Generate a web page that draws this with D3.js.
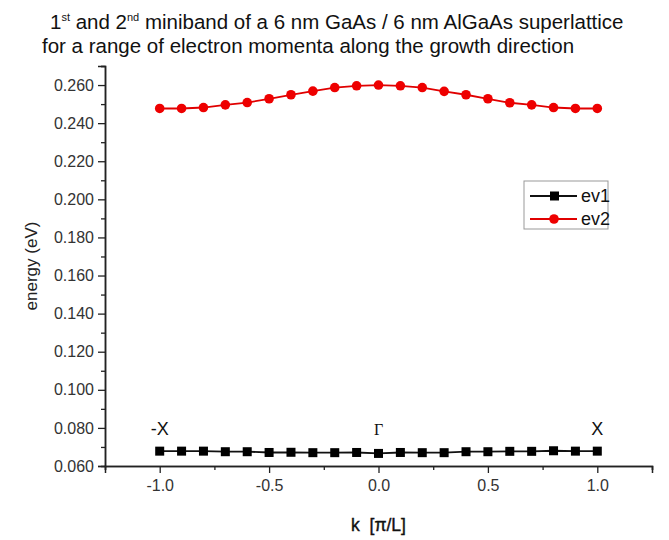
<!DOCTYPE html>
<html>
<head>
	<title>Miniband dispersion</title>
	<script src="https://cdnjs.cloudflare.com/ajax/libs/d3/7.8.5/d3.min.js"></script>
	<style>
		body { margin: 0; background: #fff; }
		text { font-family: "Liberation Sans", Arial, sans-serif; }
	</style>
</head>
<body>
<script type="text/javascript">
// electron momentum along growth direction, in units of pi/L
var kValues = [-1.0, -0.9, -0.8, -0.7, -0.6, -0.5, -0.4, -0.3, -0.2, -0.1, 0.0,
	0.1, 0.2, 0.3, 0.4, 0.5, 0.6, 0.7, 0.8, 0.9, 1.0];
// 1st miniband (eV)
var ev1 = [0.0678, 0.0678, 0.0678, 0.0675, 0.0675, 0.0671, 0.0672, 0.0670, 0.0670, 0.0671, 0.0666,
	0.0671, 0.0670, 0.0670, 0.0675, 0.0675, 0.0677, 0.0677, 0.0680, 0.0678, 0.0678];
// 2nd miniband (eV)
var ev2 = [0.2477, 0.2477, 0.2482, 0.2496, 0.2508, 0.2528, 0.2549, 0.2568, 0.2587, 0.2596, 0.2600,
	0.2596, 0.2587, 0.2567, 0.2549, 0.2528, 0.2507, 0.2496, 0.2482, 0.2477, 0.2477];
var seriesNames = ["ev1", "ev2"];
var yTicks = [0.06, 0.08, 0.10, 0.12, 0.14, 0.16, 0.18, 0.20, 0.22, 0.24, 0.26];
var yMinorTicks = [0.07, 0.09, 0.11, 0.13, 0.15, 0.17, 0.19, 0.21, 0.23, 0.25, 0.27];
var xTicks = [-1.0, -0.5, 0.0, 0.5, 1.0];
var xMinorTicks = [-1.25, -0.75, -0.25, 0.25, 0.75, 1.25];
var pointLabels = [{k: -1.0, name: "-X"}, {k: 0.0, name: "\u0393"}, {k: 1.0, name: "X"}];

var self = {};
self.width = 669;
self.height = 540;
self.left = 105;
self.right = 652;
self.top = 66;
self.bottom = 466;

self.init = function() {
	var svg = d3.select("body").append("svg")
		.attr("width", self.width)
		.attr("height", self.height);

	var x = d3.scaleLinear().domain([-1.25, 1.25]).range([self.left, self.right]);
	var y = d3.scaleLinear().domain([0.06, 0.27]).range([self.bottom, self.top]);

	// title, two lines
	var title = svg.append("text").attr("font-size", 20.5).attr("fill", "#111");
	var t1 = title.append("tspan").attr("x", 50).attr("y", 29);
	t1.append("tspan").text("1");
	t1.append("tspan").attr("font-size", 11).attr("dy", -8).text("st");
	t1.append("tspan").attr("dy", 8).text(" and 2");
	t1.append("tspan").attr("font-size", 11).attr("dy", -8).text("nd");
	t1.append("tspan").attr("dy", 8).text(" miniband of a 6 nm GaAs / 6 nm AlGaAs superlattice");
	title.append("tspan").attr("x", 42).attr("y", 53)
		.text("for a range of electron momenta along the growth direction");

	// y axis
	var yAxis = d3.axisLeft(y).tickValues(yTicks).tickSize(7).tickPadding(4)
		.tickFormat(function(d) { return d.toFixed(3); });
	svg.append("g").attr("transform", "translate(" + self.left + ",0)").call(yAxis);
	svg.append("g").attr("transform", "translate(" + self.left + ",0)")
		.call(d3.axisLeft(y).tickValues(yMinorTicks).tickSize(4).tickFormat(""));

	// x axis
	var xAxis = d3.axisBottom(x).tickValues(xTicks).tickSize(7).tickPadding(7)
		.tickFormat(function(d) { return d.toFixed(1); });
	svg.append("g").attr("transform", "translate(0," + self.bottom + ")").call(xAxis);
	svg.append("g").attr("transform", "translate(0," + self.bottom + ")")
		.call(d3.axisBottom(x).tickValues(xMinorTicks).tickSize(4).tickFormat(""));

	svg.selectAll(".domain").attr("stroke", "#222").attr("stroke-width", 1.5);
	svg.selectAll(".tick line").attr("stroke", "#222").attr("stroke-width", 1.3);
	svg.selectAll(".tick text")
		.attr("font-family", "Liberation Sans, Arial, sans-serif")
		.attr("font-size", 16).attr("fill", "#333");

	// axis titles
	svg.append("text")
		.attr("transform", "translate(37," + ((self.top + self.bottom) / 2) + ") rotate(-90)")
		.attr("text-anchor", "middle").attr("font-size", 17).attr("fill", "#222")
		.text("energy (eV)");
	svg.append("text")
		.attr("x", x(0)).attr("y", 531)
		.attr("text-anchor", "middle").attr("font-size", 17.5).attr("fill", "#111")
		.attr("stroke", "#111").attr("stroke-width", 0.4)
		.style("white-space", "pre")
		.text("k  [\u03c0/L]");

	// symmetry point labels
	svg.selectAll(".pt").data(pointLabels).enter().append("text")
		.attr("class", "pt")
		.attr("x", function(d) { return x(d.k); })
		.attr("y", 435)
		.attr("text-anchor", "middle")
		.attr("font-size", function(d) { return d.name == "\u0393" ? 16 : 18; })
		.style("font-family", function(d) { return d.name == "\u0393" ? "Liberation Serif, serif" : null; })
		.attr("fill", "#111")
		.text(function(d) { return d.name; });

	var line = d3.line()
		.x(function(d) { return x(d[0]); })
		.y(function(d) { return y(d[1]); });

	// ev1: black squares
	var d1 = d3.zip(kValues, ev1);
	svg.append("path").datum(d1).attr("d", line)
		.attr("fill", "none").attr("stroke", "#111").attr("stroke-width", 1.8);
	svg.selectAll(".sq").data(d1).enter().append("rect")
		.attr("class", "sq")
		.attr("x", function(d) { return x(d[0]) - 4.5; })
		.attr("y", function(d) { return y(d[1]) - 4.5; })
		.attr("width", 9).attr("height", 9)
		.attr("fill", "#000");

	// ev2: red circles
	var d2 = d3.zip(kValues, ev2);
	svg.append("path").datum(d2).attr("d", line)
		.attr("fill", "none").attr("stroke", "#e00000").attr("stroke-width", 1.8);
	svg.selectAll(".dot").data(d2).enter().append("circle")
		.attr("class", "dot")
		.attr("cx", function(d) { return x(d[0]); })
		.attr("cy", function(d) { return y(d[1]); })
		.attr("r", 4.8)
		.attr("fill", "#ee0000");

	// legend
	var legend = svg.append("g").attr("transform", "translate(524,181)");
	legend.append("rect").attr("width", 84).attr("height", 48)
		.attr("fill", "#fff").attr("stroke", "#999").attr("stroke-width", 1);
	seriesNames.forEach(function(name, i) {
		var ly = 15 + i * 23;
		var col = i == 0 ? "#111" : "#e00000";
		legend.append("line").attr("x1", 6).attr("x2", 53).attr("y1", ly).attr("y2", ly)
			.attr("stroke", col).attr("stroke-width", 1.8);
		if (i == 0) {
			legend.append("rect").attr("x", 26).attr("y", ly - 4.5).attr("width", 9).attr("height", 9).attr("fill", "#000");
		} else {
			legend.append("circle").attr("cx", 30).attr("cy", ly).attr("r", 4.8).attr("fill", "#ee0000");
		}
		legend.append("text").attr("x", 57).attr("y", ly + 6)
			.attr("font-size", 18).attr("fill", "#111").text(name);
	});
};

self.init();
</script>
</body>
</html>
